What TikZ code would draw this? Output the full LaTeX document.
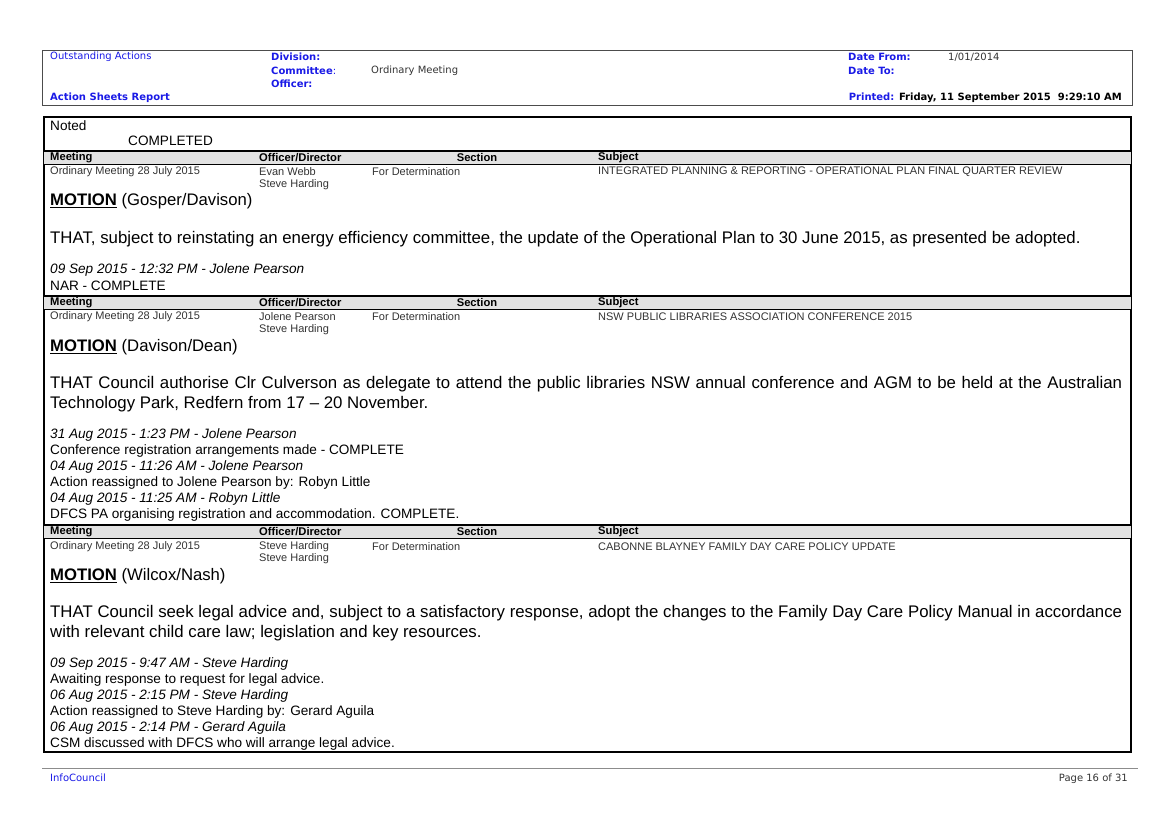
\documentclass[tikz,border=0pt]{standalone}
\usepackage{fontspec}
\setmainfont{Liberation Sans}
\newfontfamily\verd{DejaVu Sans}
\definecolor{hblue}{HTML}{1A1AE6}
\definecolor{band}{HTML}{E2E2E2}
\begin{document}
\begin{tikzpicture}[x=1pt,y=-1pt,
  t/.style={anchor=west,inner sep=0pt},
  hd/.style={t,font=\verd\fontsize{10}{11}\selectfont},
  hb/.style={hd,font=\verd\bfseries\fontsize{10}{11}\selectfont,text=hblue},
  sm/.style={t,font=\fontsize{11}{12}\selectfont,text=black!80},
  cb/.style={t,font=\bfseries\fontsize{11.2}{12}\selectfont},
  nt/.style={t,font=\fontsize{13.6}{15}\selectfont},
  it/.style={t,font=\itshape\fontsize{13.6}{15}\selectfont},
  mo/.style={t,font=\fontsize{16.7}{18}\selectfont},
  para/.style={anchor=north west,inner sep=0pt,text width=1072pt,align=justify,font=\fontsize{16.8}{20}\selectfont}]
\useasboundingbox (0,0) rectangle (1174,830);
% header
\draw[black!70,line width=1pt] (42,50) rectangle (1132,105);
\node[hd,text=hblue] (h1) at (50,57) {Outstanding Actions};
\node[hb] (h2) at (50,98) {Action Sheets Report};
\node[hb] (h3) at (271,57) {Division:};
\node[hb] (h4) at (271,71) {Committee\textmd{:}};
\node[hb] (h5) at (271,84) {Officer:};
\node[hd,text=black!80] (h6) at (371,71) {Ordinary Meeting};
\node[hb] (h7) at (848,57) {Date From:};
\node[hb] (h8) at (848,71) {Date To:};
\node[hd,text=black!80] (h9) at (948,57) {1/01/2014};
\node[hb,anchor=east] (h10) at (1122,98) {Printed: \textcolor{black}{Friday, 11 September 2015\ \ 9:29:10 AM}};
% main box
\draw[line width=1.3pt] (44,117) rectangle (1131,752);
% bands
\foreach \y in {151,296,525}{
  \fill[band] (44,\y) rectangle (1131,\y+13);
  \draw[line width=1.5pt] (44,\y) -- (1131,\y);
  \draw[line width=0.6pt] (44,\y+13) -- (1131,\y+13);
}
\foreach \y/\n in {157.5/a,302.5/b,531.5/c}{
  \node[cb] (m\n) at (50,\y) {Meeting};
  \node[cb] (o\n) at (259,\y) {Officer/Director};
  \node[cb,anchor=center] (s\n) at (477,\y) {Section};
  \node[cb] (u\n) at (598,\y) {Subject};
}
\node[nt] (n1) at (50,126) {Noted};
\node[nt] (n2) at (128,141) {COMPLETED};
% record 1
\node[sm] (r1a) at (50,172) {Ordinary Meeting 28 July 2015};
\node[sm] (r1b) at (259,172) {Evan Webb};
\node[sm] (r1c) at (259,185) {Steve Harding};
\node[sm] (r1d) at (372,172) {For Determination};
\node[sm] (r1e) at (598,172) {INTEGRATED PLANNING \& REPORTING - OPERATIONAL PLAN FINAL QUARTER REVIEW};
\node[mo] (mo1) at (50,201) {\textbf{\underline{MOTION}} (Gosper/Davison)};
\node[para] (p1) at (50,231) {THAT, subject to reinstating an energy efficiency committee, the update of the Operational Plan to 30 June 2015, as presented be adopted.};
\node[it] (l11) at (50,270) {09 Sep 2015 - 12:32 PM - Jolene Pearson};
\node[nt] (l12) at (50,286) {NAR - COMPLETE};
% record 2
\node[sm] (r2a) at (50,317) {Ordinary Meeting 28 July 2015};
\node[sm] (r2b) at (259,317) {Jolene Pearson};
\node[sm] (r2c) at (259,330) {Steve Harding};
\node[sm] (r2d) at (372,317) {For Determination};
\node[sm] (r2e) at (598,317) {NSW PUBLIC LIBRARIES ASSOCIATION CONFERENCE 2015};
\node[mo] (mo2) at (50,347) {\textbf{\underline{MOTION}} (Davison/Dean)};
\node[para] (p2) at (50,376) {THAT Council authorise Clr Culverson as delegate to attend the public libraries NSW annual conference and AGM to be held at the Australian Technology Park, Redfern from 17 – 20 November.};
\node[it] (l21) at (50,435) {31 Aug 2015 - 1:23 PM - Jolene Pearson};
\node[nt] (l22) at (50,451) {Conference registration arrangements made - COMPLETE};
\node[it] (l23) at (50,467) {04 Aug 2015 - 11:26 AM - Jolene Pearson};
\node[nt] (l24) at (50,483) {Action reassigned to Jolene Pearson by: Robyn Little};
\node[it] (l25) at (50,499) {04 Aug 2015 - 11:25 AM - Robyn Little};
\node[nt] (l26) at (50,515) {DFCS PA organising registration and accommodation. COMPLETE.};
% record 3
\node[sm] (r3a) at (50,547) {Ordinary Meeting 28 July 2015};
\node[sm] (r3b) at (259,547) {Steve Harding};
\node[sm] (r3c) at (259,559) {Steve Harding};
\node[sm] (r3d) at (372,547) {For Determination};
\node[sm] (r3e) at (598,547) {CABONNE BLAYNEY FAMILY DAY CARE POLICY UPDATE};
\node[mo] (mo3) at (50,576) {\textbf{\underline{MOTION}} (Wilcox/Nash)};
\node[para] (p3) at (50,605) {THAT Council seek legal advice and, subject to a satisfactory response, adopt the changes to the Family Day Care Policy Manual in accordance with relevant child care law; legislation and key resources.};
\node[it] (l31) at (50,664) {09 Sep 2015 - 9:47 AM - Steve Harding};
\node[nt] (l32) at (50,680) {Awaiting response to request for legal advice.};
\node[it] (l33) at (50,696) {06 Aug 2015 - 2:15 PM - Steve Harding};
\node[nt] (l34) at (50,712) {Action reassigned to Steve Harding by: Gerard Aguila};
\node[it] (l35) at (50,728) {06 Aug 2015 - 2:14 PM - Gerard Aguila};
\node[nt] (l36) at (50,744) {CSM discussed with DFCS who will arrange legal advice.};
% footer
\draw[black!45,line width=0.8pt] (42,768) -- (1138,768);
\node[hd,text=hblue] (f1) at (50,778) {InfoCouncil};
\node[hd,anchor=east,text=black!80] (f2) at (1128,779) {Page 16 of 31};
\end{tikzpicture}
\end{document}
